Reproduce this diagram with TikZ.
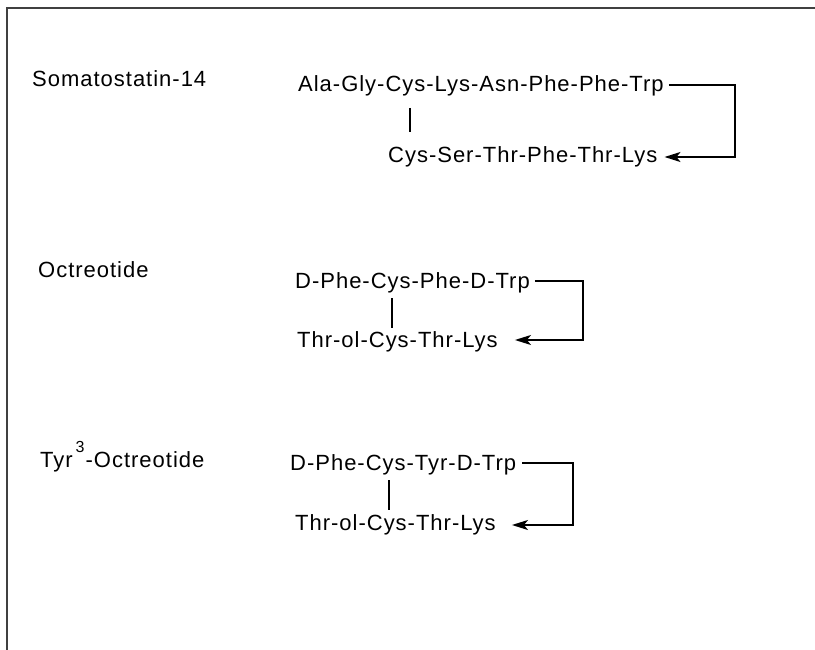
\documentclass[tikz,border=0pt]{standalone}
\usepackage{fontspec}
\setmainfont{Liberation Sans}[LetterSpace=4.5]
\usetikzlibrary{arrows.meta}
\tikzset{
  seq/.style={anchor=base west, inner sep=0pt, font=\fontsize{22}{26}\selectfont},
  lbl/.style={anchor=base west, inner sep=0pt, font=\fontsize{22}{26}\selectfont},
  link/.style={line width=1.5pt, black, -{Stealth[length=16pt,width=10pt,inset=4pt]}},
  bond/.style={line width=1.5pt, black},
  frame/.style={line width=1.8pt, black!75}
}
\begin{document}
\begin{tikzpicture}[x=1pt,y=-1pt]
\useasboundingbox (0,0) rectangle (815,650);
\draw[frame] (7,651) -- (7,8) -- (816,8);

% Somatostatin-14
\node[lbl] (l1) at (32,87) {Somatostatin-14};
\node[seq] (s1t) at (298,92) {Ala-Gly-Cys-Lys-Asn-Phe-Phe-Trp};
\node[seq] (s1b) at (388,163) {Cys-Ser-Thr-Phe-Thr-Lys};
\coordinate (k1) at (735,85);
\coordinate (b1t) at (410,108);
\coordinate (b1b) at (410,132);
\draw[bond] (b1t) -- (b1b);
\draw[link] ([xshift=5pt]s1t.base east |- k1) -- (k1) |- ([xshift=7pt,yshift=6pt]s1b.base east);

% Octreotide
\node[lbl] (l2) at (38,278) {Octreotide};
\node[seq] (s2t) at (295,288) {D-Phe-Cys-Phe-D-Trp};
\node[seq] (s2b) at (297,347) {Thr-ol-Cys-Thr-Lys};
\coordinate (k2) at (583,281);
\coordinate (b2t) at (392,298);
\coordinate (b2b) at (392,328);
\draw[bond] (b2t) -- (b2b);
\draw[link] ([xshift=5pt]s2t.base east |- k2) -- (k2) |- ([xshift=17pt,yshift=7pt]s2b.base east);

% Tyr3-Octreotide
\node[lbl] (l3) at (40,467) {Tyr\hspace{3pt}\raisebox{15pt}{\fontsize{16}{16}\selectfont 3}\hspace{1pt}-Octreotide};
\node[seq] (s3t) at (290,470) {D-Phe-Cys-Tyr-D-Trp};
\node[seq] (s3b) at (295,530) {Thr-ol-Cys-Thr-Lys};
\coordinate (k3) at (573,463);
\coordinate (b3t) at (389,480);
\coordinate (b3b) at (389,510);
\draw[bond] (b3t) -- (b3b);
\draw[link] ([xshift=6pt]s3t.base east |- k3) -- (k3) |- ([xshift=16pt,yshift=5pt]s3b.base east);
\end{tikzpicture}
\end{document}
